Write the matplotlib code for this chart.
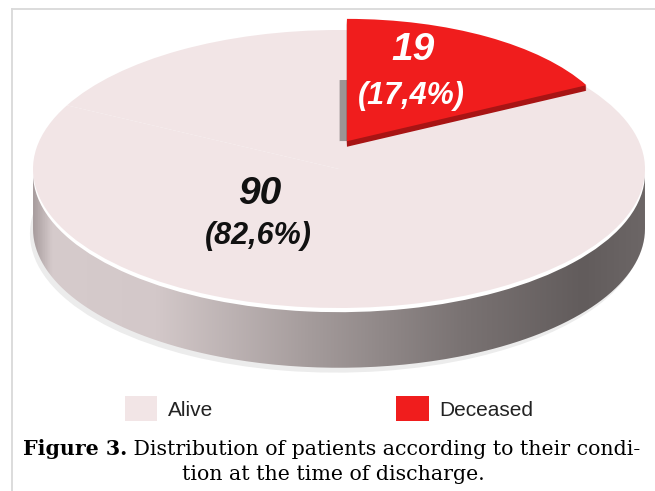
import numpy as np
import matplotlib.pyplot as plt
from matplotlib.colors import LinearSegmentedColormap
from matplotlib.path import Path
from matplotlib.patches import PathPatch

# data
labels = ['Alive', 'Deceased']
counts = [90, 19]
pct_labels = ['(82,6%)', '(17,4%)']
caption_bold = 'Figure 3.'
caption_rest = ' Distribution of patients according to their condi-'
caption_line2 = 'tion at the time of discharge.'

alive_col = '#f2e5e6'
red_col = '#f01d1d'
red_dark = '#a81414'
strip_col = '#9c9595'

W, H = 655, 491
fig = plt.figure(figsize=(6.55, 4.91), dpi=100)

# pie geometry (pixels): ellipse centre and radii of the top face
cx, cy, rx, ry = 339, 169, 306, 139
depth = 0.43
ylo, yhi = -1 - depth - 0.08, 1.15
xl = 1.03
ax = fig.add_axes([(cx - rx * xl) / W, (H - (cy - ylo * ry)) / H,
                   2 * rx * xl / W, (yhi - ylo) * ry / H])

# soft shadow under the disc
ax.pie(counts, colors=['#ececec', '#ececec'], center=(-0.01, -depth - 0.035),
       wedgeprops=dict(lw=0, zorder=0.5))

# side of the disc: horizontal gradient clipped to the side outline
t1 = np.linspace(np.pi, 2 * np.pi, 200)
t2 = np.linspace(0, np.pi, 200)
verts = np.concatenate([np.c_[np.cos(t1), np.sin(t1) - depth],
                        np.c_[np.cos(t2), np.sin(t2)]])
side_patch = PathPatch(Path(verts), transform=ax.transData, fc='none', ec='none')
ax.add_patch(side_patch)
side_cmap = LinearSegmentedColormap.from_list(
    'side', [(0, '#a99e9f'), (0.03, '#d6cbcc'), (0.2, '#d3c8c9'), (0.45, '#a59c9c'),
             (0.7, '#7a7373'), (0.9, '#625c5c'), (1, '#6c6666')])
im = ax.imshow(np.linspace(0, 1, 256).reshape(1, -1), extent=(-1, 1, -1 - depth, 0),
               aspect='auto', cmap=side_cmap, zorder=1)
im.set_clip_path(side_patch)

# white bevel at the rim, then the top face
ax.pie(counts, colors=['white', 'white'], startangle=90, counterclock=False,
       center=(0, -0.03), wedgeprops=dict(lw=0, zorder=2))
top, _ = ax.pie(counts, colors=[alive_col, alive_col], startangle=90, counterclock=False,
                wedgeprops=dict(lw=0, zorder=3))

# lifted red slice
rc = (0.026, 0.2)
rr = 0.88
order = [counts[1], counts[0]]
for k in range(6):
    f = 1 - k / 6
    ax.pie(order, colors=[strip_col, 'none'], startangle=90, counterclock=False,
           radius=rr * 0.5, center=(rc[0] - 0.024 * f, rc[1]),
           wedgeprops=dict(lw=0, zorder=4))
for k in range(6):
    f = 1 - k / 6
    ax.pie(order, colors=[red_dark, 'none'], startangle=90, counterclock=False,
           radius=rr, center=(rc[0], rc[1] - 0.04 * f), wedgeprops=dict(lw=0, zorder=4))
red, _ = ax.pie(order, colors=[red_col, 'none'], startangle=90, counterclock=False,
                radius=rr, center=rc, wedgeprops=dict(lw=0, zorder=5))

ax.set_aspect('auto')
ax.set_xlim(-xl, xl)
ax.set_ylim(ylo, yhi)
ax.axis('off')

# overlay in pixel coordinates
ov = fig.add_axes([0, 0, 1, 1])
ov.set_xlim(0, W)
ov.set_ylim(H, 0)
ov.axis('off')
ov.patch.set_alpha(0)
ov.plot([12, 12], [H, 9], color='#d9d9d9', lw=1.3)
ov.plot([12, W], [9, 9], color='#d9d9d9', lw=1.3)

lab = dict(family='Liberation Sans', weight='bold', style='italic', ha='center', va='center')
ov.text(260, 194, str(counts[0]), fontsize=28, color='#111111', **lab)
ov.text(258, 236, pct_labels[0], fontsize=22, color='#111111', **lab)
ov.text(413, 50, str(counts[1]), fontsize=28, color='white', **lab)
ov.text(411, 96, pct_labels[1], fontsize=22, color='white', **lab)

fig.legend([top[0], red[0]], labels, ncol=2, loc='upper left',
           bbox_to_anchor=(125 / W, 1 - 396 / H), frameon=False,
           prop=dict(family='Liberation Sans', size=15), labelcolor='#222222',
           handlelength=1.55, handleheight=1.5, handletextpad=0.5,
           columnspacing=8.8, borderpad=0, borderaxespad=0)

cap = dict(family='DejaVu Serif', fontsize=14.8, color='black')
t1 = ov.text(23, 455, caption_bold, fontweight='bold', ha='left', va='baseline', **cap)
ov.annotate(caption_rest, xy=(1, 0), xycoords=t1, ha='left', va='bottom', **cap)
ov.text(333, 480, caption_line2, ha='center', va='baseline', **cap)

fig.savefig('out.png', dpi=100)
